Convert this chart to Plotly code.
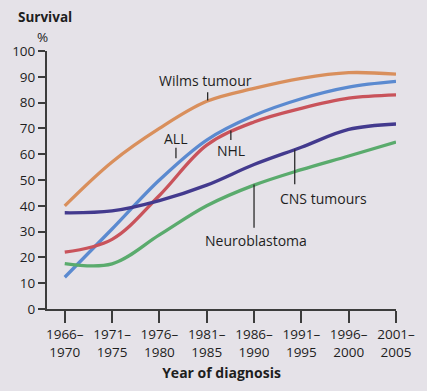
import plotly.graph_objects as go

periods = ["1966–1970", "1971–1975", "1976–1980", "1981–1985",
           "1986–1990", "1991–1995", "1996–2000", "2001–2005"]
tick_labels = ["1966–<br>1970", "1971–<br>1975", "1976–<br>1980", "1981–<br>1985",
               "1986–<br>1990", "1991–<br>1995", "1996–<br>2000", "2001–<br>2005"]

wilms = [40, 57, 70, 80.5, 85.5, 89.4, 91.6, 91]
all_ = [12.3, 31, 50, 65.5, 75, 81.5, 86, 88.2]
nhl = [22, 27, 44, 63.5, 72.5, 77.8, 81.7, 83]
cns = [37.3, 38, 42, 48, 56, 62.7, 69.6, 71.7]
neuro = [17.6, 17.5, 28.7, 40, 48, 54, 59.3, 64.7]

series = [
    ("Wilms tumour", wilms, "#d98f5c"),
    ("ALL", all_, "#5b8ad0"),
    ("NHL", nhl, "#c9535b"),
    ("CNS tumours", cns, "#433a8e"),
    ("Neuroblastoma", neuro, "#5aab6d"),
]

x = list(range(len(periods)))
FONT = "Open Sans"
TXT = "#1e1e1e"
AX = "#3c3c3c"
BG = "#e5e2e8"

fig = go.Figure()
for name, vals, col in series:
    fig.add_trace(go.Scatter(x=x, y=vals, name=name, mode="lines",
                             line=dict(color=col, width=3.3, shape="spline", smoothing=1.0),
                             hoverinfo="skip"))

# labels: (text, text_x, text_y, leader_x, leader_y0, leader_y1)
labels = [
    ("Wilms tumour", 2.97, 88.5, 3.02, 84.0, 80.8),
    ("ALL", 2.35, 66.2, 2.35, 62.5, 58.4),
    ("NHL", 3.51, 61.6, 3.51, 65.5, 69.2),
    ("CNS tumours", 5.47, 42.8, 4.86, 48.4, 61.8),
    ("Neuroblastoma", 4.05, 26.7, 4.0, 31.5, 48.3),
]
for t, tx, ty, lx, ly0, ly1 in labels:
    fig.add_annotation(x=tx, y=ty, text=t, showarrow=False,
                       font=dict(family=FONT, size=14, color=TXT),
                       xanchor="center", yanchor="middle")
    fig.add_shape(type="line", x0=lx, x1=lx, y0=ly0, y1=ly1,
                  line=dict(color="#2a2a2a", width=1.3))

fig.add_annotation(xref="paper", yref="paper", x=-0.09, y=1.133, xanchor="left",
                   yanchor="middle", text="<b>Survival</b>", showarrow=False,
                   font=dict(family=FONT, size=13.5, color=TXT))
fig.add_annotation(xref="paper", yref="paper", x=-0.012, y=1.054, xanchor="center",
                   yanchor="middle", text="%", showarrow=False,
                   font=dict(family=FONT, size=13.5, color=TXT))

fig.update_layout(
    width=427, height=391,
    margin=dict(l=44, r=28, t=51, b=82),
    paper_bgcolor=BG, plot_bgcolor=BG,
    showlegend=False,
    font=dict(family=FONT, size=13.5, color=TXT),
    xaxis=dict(range=[-0.375, 7], tickmode="array", tickvals=x, ticktext=tick_labels,
               showgrid=False, zeroline=False, showline=True, linecolor=AX, linewidth=2,
               ticks="outside", ticklen=12, tickwidth=1.5, tickcolor=AX,
               tickfont=dict(family=FONT, size=13.5, color=TXT),
               title=dict(text="<b>Year of diagnosis</b>", standoff=8,
                          font=dict(family=FONT, size=14, color=TXT))),
    yaxis=dict(range=[0, 100], tickmode="array", tickvals=list(range(0, 101, 10)),
               showgrid=False, zeroline=False, showline=True, linecolor=AX, linewidth=2,
               ticks="outside", ticklen=7, tickwidth=1.5, tickcolor=AX,
               tickfont=dict(family=FONT, size=13.5, color=TXT)),
)

fig.write_html("out.html", config={"displayModeBar": False},
               post_script="document.body.style.margin='0';document.body.style.background='" + BG + "';")
